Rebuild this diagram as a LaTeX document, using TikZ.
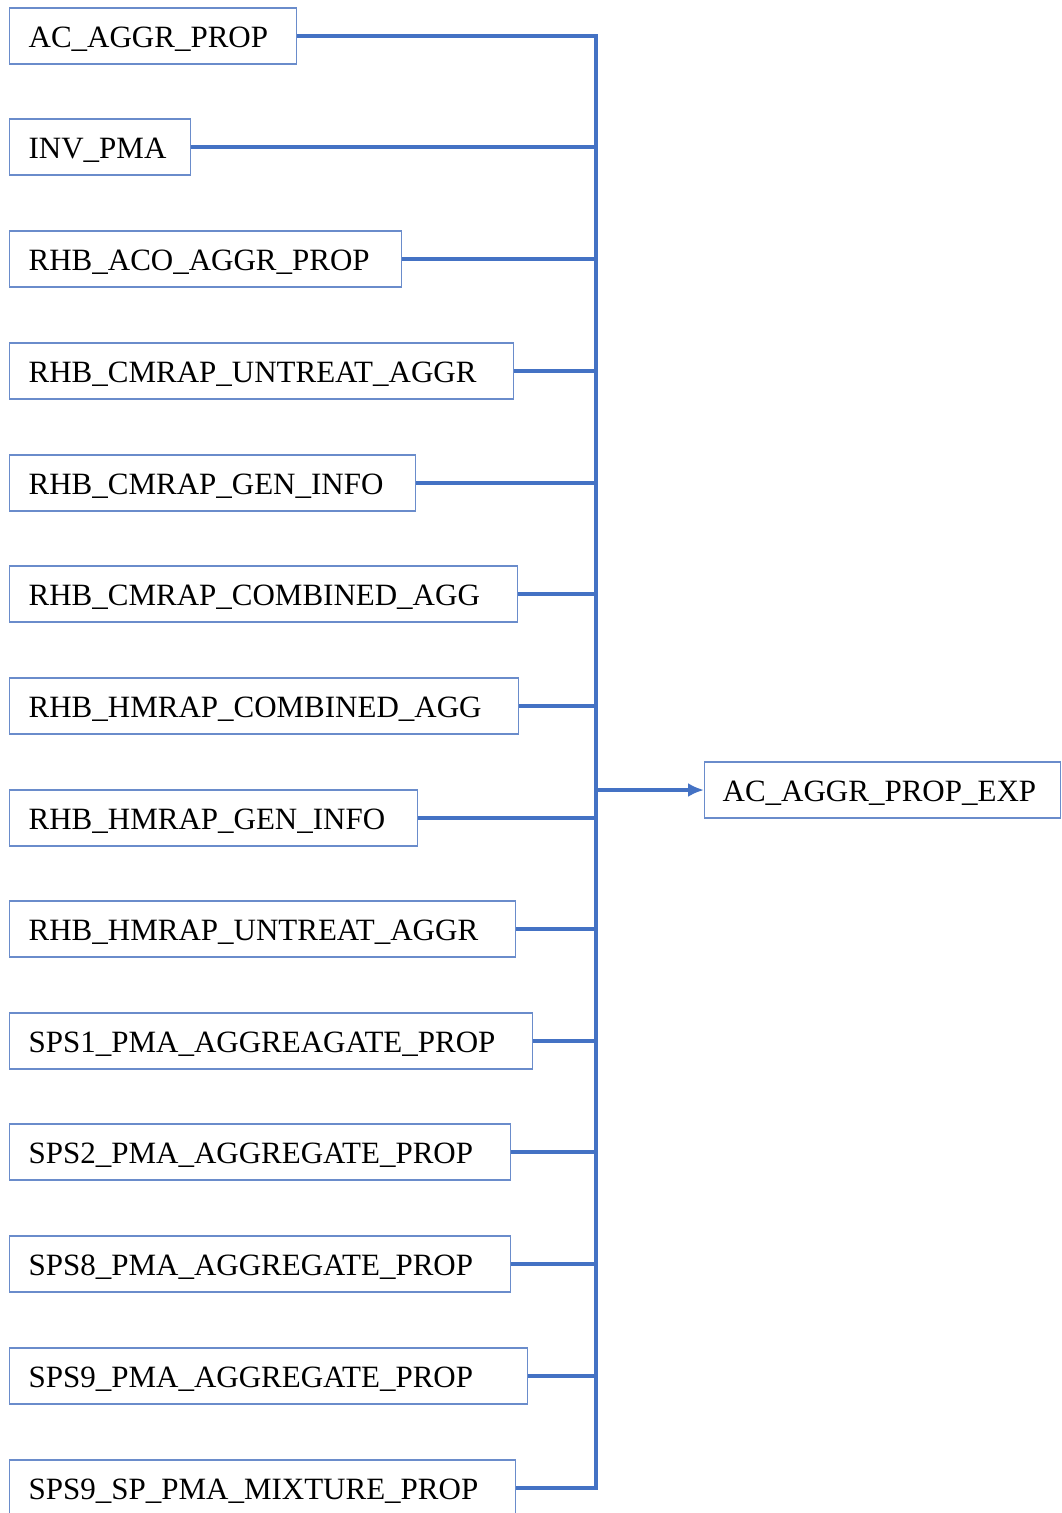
\documentclass[tikz,border=0pt]{standalone}
\usepackage{fontspec}
\setmainfont{Liberation Serif}
\usetikzlibrary{arrows.meta}
\definecolor{linkblue}{HTML}{4472C4}
\definecolor{boxblue}{HTML}{6A8CCB}
\begin{document}
\begin{tikzpicture}[x=1pt, y=-1pt,
   tbl/.style={draw=boxblue, line width=1.3pt, anchor=west, inner xsep=19pt, inner ysep=0pt,
      minimum height=56pt, text height=24pt, text depth=2pt, align=left,
      font=\fontsize{31}{34}\selectfont},
   link/.style={draw=linkblue, line width=3.6pt}]
   \useasboundingbox (0,0) rectangle (1061,1513);

   \node[tbl, text width=249pt] (t1) at (9,36) {AC\_AGGR\_PROP};
   \node[tbl, text width=143pt] (t2) at (9,147) {INV\_PMA};
   \node[tbl, text width=354pt] (t3) at (9,259) {RHB\_ACO\_AGGR\_PROP};
   \node[tbl, text width=466pt] (t4) at (9,371) {RHB\_CMRAP\_UNTREAT\_AGGR};
   \node[tbl, text width=368pt] (t5) at (9,483) {RHB\_CMRAP\_GEN\_INFO};
   \node[tbl, text width=470pt] (t6) at (9,594) {RHB\_CMRAP\_COMBINED\_AGG};
   \node[tbl, text width=471pt] (t7) at (9,706) {RHB\_HMRAP\_COMBINED\_AGG};
   \node[tbl, text width=370pt] (t8) at (9,818) {RHB\_HMRAP\_GEN\_INFO};
   \node[tbl, text width=468pt] (t9) at (9,929) {RHB\_HMRAP\_UNTREAT\_AGGR};
   \node[tbl, text width=485pt] (t10) at (9,1041) {SPS1\_PMA\_AGGREAGATE\_PROP};
   \node[tbl, text width=463pt] (t11) at (9,1152) {SPS2\_PMA\_AGGREGATE\_PROP};
   \node[tbl, text width=463pt] (t12) at (9,1264) {SPS8\_PMA\_AGGREGATE\_PROP};
   \node[tbl, text width=480pt] (t13) at (9,1376) {SPS9\_PMA\_AGGREGATE\_PROP};
   \node[tbl, text width=468pt] (t14) at (9,1488) {SPS9\_SP\_PMA\_MIXTURE\_PROP};

   \node[tbl, inner xsep=18pt, text width=320pt] (exp) at (704,790) {AC\_AGGR\_PROP\_EXP};

   % collecting bus
   \coordinate (bustop) at (596,36);
   \coordinate (busbot) at (596,1488);
   \coordinate (busout) at (596,790);

   \draw[link, line join=miter] (t1.east) -- (bustop) -- (busbot) -- (t14.east);
   \draw[link] (t2.east) -- (t2.east -| bustop);
   \draw[link] (t3.east) -- (t3.east -| bustop);
   \draw[link] (t4.east) -- (t4.east -| bustop);
   \draw[link] (t5.east) -- (t5.east -| bustop);
   \draw[link] (t6.east) -- (t6.east -| bustop);
   \draw[link] (t7.east) -- (t7.east -| bustop);
   \draw[link] (t8.east) -- (t8.east -| bustop);
   \draw[link] (t9.east) -- (t9.east -| bustop);
   \draw[link] (t10.east) -- (t10.east -| bustop);
   \draw[link] (t11.east) -- (t11.east -| bustop);
   \draw[link] (t12.east) -- (t12.east -| bustop);
   \draw[link] (t13.east) -- (t13.east -| bustop);

   \draw[link, -{Latex[length=16pt, width=14pt]}] (busout) -- (exp.west);
\end{tikzpicture}
\end{document}
